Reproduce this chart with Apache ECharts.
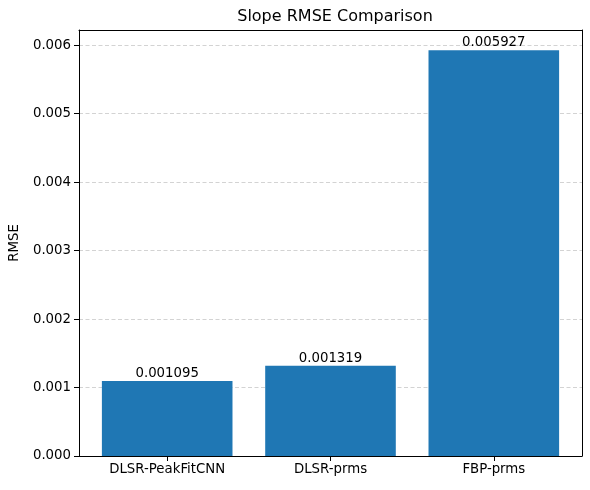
<!DOCTYPE html>
<html>
<head>
<meta charset="utf-8">
<script src="https://cdn.jsdelivr.net/npm/echarts@6/dist/echarts.min.js"></script>
<style>html,body{margin:0;padding:0;background:#fff;}#c{width:590px;height:490px;}</style>
</head>
<body>
<div id="c"></div>
<script>
const categories = ["DLSR-PeakFitCNN", "DLSR-prms", "FBP-prms"];
const rmseValues = [0.001095, 0.001319, 0.005927];

const font = "DejaVu Sans";
const chart = echarts.init(document.getElementById('c'), null, {renderer: 'canvas'});
const frameAxis = {show: true, onZero: false, lineStyle: {color: '#000', width: 1}};
chart.setOption({
  animation: false,
  backgroundColor: '#fff',
  title: {
    text: 'Slope RMSE Comparison', left: 330, top: 4, textAlign: 'center',
    textStyle: {fontFamily: font, fontSize: 16, fontWeight: 'normal', color: '#000'}
  },
  grid: {left: 79, right: 8, top: 30, bottom: 34},
  xAxis: [{
    type: 'value', min: -0.54, max: 2.54,
    splitLine: {show: false},
    axisLine: frameAxis,
    axisTick: {show: true, customValues: [0, 1, 2], length: 5, lineStyle: {color: '#000'}},
    axisLabel: {customValues: [0, 1, 2], formatter: v => categories[Math.round(v)] || '', margin: 7,
      fontFamily: font, fontSize: 13.3, color: '#000'}
  }, {
    type: 'value', position: 'top', min: 0, max: 1,
    axisLine: frameAxis, axisTick: {show: false}, axisLabel: {show: false}, splitLine: {show: false}
  }],
  yAxis: [{
    type: 'value', min: 0, max: 0.006223, interval: 0.001,
    name: 'RMSE', nameLocation: 'middle', nameGap: 58,
    nameTextStyle: {fontFamily: font, fontSize: 13.3, color: '#000'},
    axisLine: frameAxis,
    axisTick: {show: true, length: 5, lineStyle: {color: '#000'}},
    axisLabel: {formatter: v => v.toFixed(3), margin: 8, fontFamily: font, fontSize: 13.3, color: '#000',
      showMaxLabel: false},
    splitLine: {show: true, lineStyle: {color: '#c8c8c8', type: [4, 2.5], width: 0.8}}
  }, {
    type: 'value', position: 'right', min: 0, max: 1,
    axisLine: frameAxis, axisTick: {show: false}, axisLabel: {show: false}, splitLine: {show: false}
  }],
  series: [{
    type: 'bar',
    xAxisIndex: 0, yAxisIndex: 0,
    data: rmseValues.map((v, i) => [i, v]),
    barWidth: 130.6,
    itemStyle: {color: '#1f77b4'},
    z: 3,
    label: {show: true, position: 'top', distance: 1, formatter: p => p.value[1].toFixed(6),
      fontFamily: font, fontSize: 13.3, color: '#000'}
  }]
});
</script>
</body>
</html>
